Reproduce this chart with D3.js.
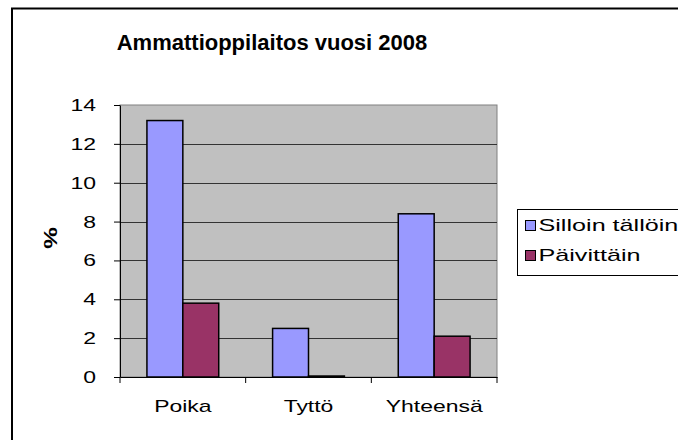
<!DOCTYPE html>
<html>
<head>
<meta charset="utf-8">
<script src="https://cdn.jsdelivr.net/npm/d3@7"></script>
<style>
  body { margin: 0; background: #fff; }
  svg { font-family: "Liberation Sans", Arial, sans-serif; }
</style>
</head>
<body>
<div id="chart"></div>
<script>
const categories = ["Poika", "Tyttö", "Yhteensä"];
const seriesNames = ["Silloin tällöin", "Päivittäin"];
const sillointallon = [13.2, 2.5, 8.4];
const paivittain = [3.8, 0.05, 2.1];
const yTicks = [0, 2, 4, 6, 8, 10, 12, 14];
const colors = ["#9999ff", "#993366"];

const W = 678, H = 440;
const plot = {left: 120, top: 105, right: 497, bottom: 377};

// the original export is stretched sideways, widen the small texts to match
function stretch(sel, k) {
    sel.each(function () {
        const len = this.getComputedTextLength();
        d3.select(this)
            .attr("textLength", len * k)
            .attr("lengthAdjust", "spacingAndGlyphs");
    });
}

const svg = d3.select("#chart").append("svg")
    .attr("width", W)
    .attr("height", H);

// outer chart frame (runs off the right and bottom edge)
svg.append("rect")
    .attr("x", 12).attr("y", 8.5)
    .attr("width", 700).attr("height", 460)
    .attr("fill", "#fff")
    .attr("stroke", "#000")
    .attr("stroke-width", 2);

svg.append("text")
    .attr("x", 272).attr("y", 50)
    .attr("text-anchor", "middle")
    .attr("font-size", 22)
    .attr("font-weight", "bold")
    .text("Ammattioppilaitos vuosi 2008");

const x = d3.scaleBand().domain(categories).range([plot.left, plot.right]);
const y = d3.scaleLinear().domain([0, 14]).range([plot.bottom, plot.top]);
const barW = x.bandwidth() / 3.5;
const x1 = d3.scaleBand().domain(seriesNames).range([0, barW * 2]);

// plot area
svg.append("rect")
    .attr("x", plot.left).attr("y", plot.top)
    .attr("width", plot.right - plot.left).attr("height", plot.bottom - plot.top)
    .attr("fill", "#c0c0c0")
    .attr("stroke", "#808080");

// gridlines
svg.append("g").selectAll("line")
    .data(yTicks.filter(d => d > 0 && d < 14))
    .join("line")
    .attr("x1", plot.left).attr("x2", plot.right)
    .attr("y1", d => Math.round(y(d)) + 0.5).attr("y2", d => Math.round(y(d)) + 0.5)
    .attr("stroke", "#333");

// bars
const series = [sillointallon, paivittain];
const g = svg.append("g");
series.forEach((vals, si) => {
    g.selectAll(null)
        .data(vals)
        .join("rect")
        .attr("x", (d, i) => x(categories[i]) + (x.bandwidth() - barW * 2) / 2 + x1(seriesNames[si]))
        .attr("y", d => y(d))
        .attr("width", barW)
        .attr("height", d => y(0) - y(d))
        .attr("fill", colors[si])
        .attr("stroke", "#000")
        .attr("stroke-width", 1.5);
});

// y axis
const yAxis = svg.append("g")
    .attr("transform", `translate(${plot.left},0)`)
    .call(d3.axisLeft(y).tickValues(yTicks).tickSize(6).tickPadding(18).tickSizeOuter(0));
yAxis.select(".domain").attr("stroke", "#000");
yAxis.selectAll("text")
    .attr("font-size", 17)
    .attr("font-family", "Liberation Sans, Arial, sans-serif")
    .attr("fill", "#000")
    .call(stretch, 1.35);

// x axis
const xAxis = svg.append("g")
    .attr("transform", `translate(0,${plot.bottom})`)
    .call(d3.axisBottom(x).tickSize(0).tickPadding(23));
xAxis.select(".domain").attr("stroke", "#000");
xAxis.selectAll("text")
    .attr("font-size", 17)
    .attr("font-family", "Liberation Sans, Arial, sans-serif")
    .attr("fill", "#000")
    .call(stretch, 1.35);
xAxis.selectAll(null)
    .data(d3.range(categories.length + 1))
    .join("line")
    .attr("x1", i => plot.left + i * x.step()).attr("x2", i => plot.left + i * x.step())
    .attr("y1", 0).attr("y2", 6)
    .attr("stroke", "#000");

svg.append("text")
    .attr("transform", "translate(57,238) rotate(-90)")
    .attr("text-anchor", "middle")
    .attr("font-size", 18)
    .attr("font-weight", "bold")
    .text("%")
    .call(stretch, 1.35);

// legend
const legend = svg.append("g").attr("transform", "translate(517.5,209.5)");
legend.append("rect")
    .attr("width", 200).attr("height", 66)
    .attr("fill", "#fff")
    .attr("stroke", "#000");
seriesNames.forEach((name, i) => {
    legend.append("rect")
        .attr("x", 8).attr("y", 11 + i * 30)
        .attr("width", 10).attr("height", 10)
        .attr("fill", colors[i])
        .attr("stroke", "#000");
    legend.append("text")
        .attr("x", 21).attr("y", 21 + i * 30)
        .attr("font-size", 17)
        .text(name)
        .call(stretch, 1.48);
});
</script>
</body>
</html>
